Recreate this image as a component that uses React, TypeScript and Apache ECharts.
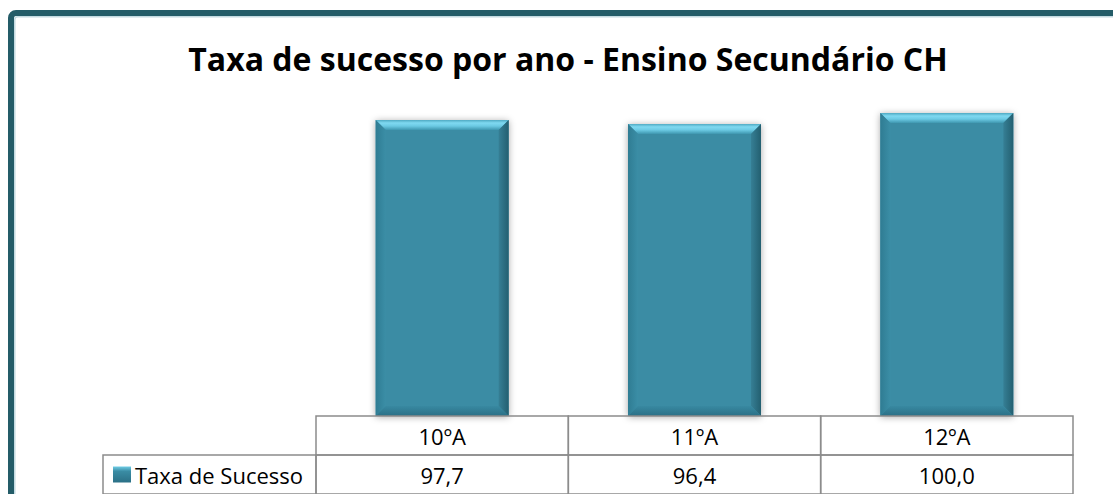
import React, { useEffect, useRef } from "react";
import * as echarts from "echarts";

const titleText = "Taxa de sucesso por ano - Ensino Secundário CH";
const seriesName = "Taxa de Sucesso";
const categories = ["10ºA", "11ºA", "12ºA"];
const values = [97.7, 96.4, 100.0];

const FONT = "'Open Sans', 'Noto Sans', sans-serif";
const GRID_LINE = "#8c8c8c";

function fmt(v: number) {
  return v.toFixed(1).replace(".", ",");
}

export default function App() {
  const ref = useRef<HTMLDivElement>(null);
  useEffect(() => {
    if (!ref.current) return;
    const chart = echarts.init(ref.current, undefined, { renderer: "svg" });

    const renderBar = (params: any, api: any) => {
      const idx = api.value(0);
      const top = api.coord([idx, api.value(1)]);
      const base = api.coord([idx, 0]);
      const bw = api.size([1, 0])[0] * 0.527;
      const l = top[0] - bw / 2;
      const r = top[0] + bw / 2;
      const t = top[1];
      const bt = base[1];
      const b = 10;
      return {
        type: "group",
        children: [
          {
            type: "rect",
            shape: { x: l, y: t, width: bw, height: bt - t },
            style: {
              fill: "#3a8ca4",
              shadowBlur: 7,
              shadowColor: "rgba(0,0,0,0.35)",
              shadowOffsetX: 0,
              shadowOffsetY: 1,
            },
          },
          {
            type: "polygon",
            shape: { points: [[l, t], [r, t], [r - b, t + b], [l + b, t + b]] },
            style: {
              fill: new echarts.graphic.LinearGradient(0, 0, 0, 1, [
                { offset: 0, color: "#4fa9c2" },
                { offset: 0.3, color: "#7fd9f1" },
                { offset: 0.6, color: "#6ccae4" },
                { offset: 1, color: "#3f97b0" },
              ]),
            },
          },
          {
            type: "polygon",
            shape: { points: [[r, t], [r, bt], [r - b, bt - b], [r - b, t + b]] },
            style: {
              fill: new echarts.graphic.LinearGradient(1, 0, 0, 0, [
                { offset: 0, color: "#235f70" },
                { offset: 1, color: "#367f95" },
              ]),
            },
          },
          {
            type: "polygon",
            shape: { points: [[l, t], [l + b, t + b], [l + b, bt - b], [l, bt]] },
            style: {
              fill: new echarts.graphic.LinearGradient(0, 0, 1, 0, [
                { offset: 0, color: "#2f7c93" },
                { offset: 1, color: "#3b8ea6" },
              ]),
            },
          },
          {
            type: "polygon",
            shape: { points: [[l, bt], [l + b, bt - b], [r - b, bt - b], [r, bt]] },
            style: {
              fill: new echarts.graphic.LinearGradient(0, 1, 0, 0, [
                { offset: 0, color: "#2b7086" },
                { offset: 1, color: "#3889a1" },
              ]),
            },
          },
        ],
      };
    };

    const renderTable = (params: any, api: any) => {
      const idx = api.value(0);
      const p0 = api.coord([idx, 0]);
      const p1 = api.coord([idx, 1]);
      const p2 = api.coord([idx, 2]);
      const w = api.size([1, 0])[0];
      const l = p0[0] - w / 2;
      const cellStyle = { fill: "none", stroke: GRID_LINE, lineWidth: 1.5 };
      const textStyle = (s: string, y: number) => ({
        type: "text",
        style: {
          text: s,
          x: p0[0],
          y,
          align: "center",
          verticalAlign: "middle",
          fill: "#000",
          font: `22px ${FONT}`,
        },
      });
      const children: any[] = [
        { type: "rect", shape: { x: l, y: p0[1], width: w, height: p1[1] - p0[1] }, style: cellStyle },
        { type: "rect", shape: { x: l, y: p1[1], width: w, height: p2[1] - p1[1] }, style: cellStyle },
        textStyle(categories[idx], (p0[1] + p1[1]) / 2),
        textStyle(fmt(api.value(1)), (p1[1] + p2[1]) / 2),
      ];
      if (idx === 0) {
        const lx = l - 213;
        const my = (p1[1] + p2[1]) / 2;
        children.push(
          { type: "rect", shape: { x: lx, y: p1[1], width: 213, height: p2[1] - p1[1] }, style: cellStyle },
          {
            type: "rect",
            shape: { x: lx + 10, y: my - 8, width: 18, height: 16 },
            style: {
              fill: new echarts.graphic.LinearGradient(0, 0, 0, 1, [
                { offset: 0, color: "#6fcde6" },
                { offset: 0.3, color: "#3a8ca4" },
                { offset: 1, color: "#2b7086" },
              ]),
            },
          },
          {
            type: "text",
            style: {
              text: seriesName,
              x: lx + 32,
              y: my,
              align: "left",
              verticalAlign: "middle",
              fill: "#000",
              font: `22px ${FONT}`,
            },
          }
        );
      }
      return { type: "group", children };
    };

    chart.setOption({
      animation: false,
      backgroundColor: "#ffffff",
      graphic: [
        {
          type: "rect",
          shape: { x: 11, y: 13, width: 1200, height: 600, r: 5 },
          style: { fill: "none", stroke: "#245c68", lineWidth: 6 },
        },
        {
          type: "rect",
          shape: { x: 14.8, y: 16.8, width: 1200, height: 600, r: 3 },
          style: { fill: "none", stroke: "#c3dae1", lineWidth: 1.5 },
        },
        {
          type: "text",
          x: 568,
          y: 58,
          style: {
            text: titleText,
            align: "center",
            verticalAlign: "middle",
            font: `bold 32px ${FONT}`,
            fill: "#000",
          },
        },
      ],
      grid: [
        { left: 316, right: 40, top: 113, bottom: 78 },
        { left: 316, right: 40, top: 416, height: 80 },
      ],
      xAxis: [
        { type: "category", data: categories, gridIndex: 0, show: false },
        { type: "category", data: categories, gridIndex: 1, show: false },
      ],
      yAxis: [
        { type: "value", min: 0, max: 100, gridIndex: 0, show: false },
        { type: "value", min: 0, max: 2, inverse: true, gridIndex: 1, show: false },
      ],
      series: [
        {
          type: "custom",
          name: seriesName,
          xAxisIndex: 0,
          yAxisIndex: 0,
          renderItem: renderBar,
          data: values.map((v, i) => [i, v]),
        },
        {
          type: "custom",
          xAxisIndex: 1,
          yAxisIndex: 1,
          renderItem: renderTable,
          data: values.map((v, i) => [i, v]),
          z: 3,
        },
      ],
    });
    return () => chart.dispose();
  }, []);
  return (
    <div
      ref={ref}
      style={{ position: "absolute", left: 0, top: 0, width: 1113, height: 494 }}
    />
  );
}
